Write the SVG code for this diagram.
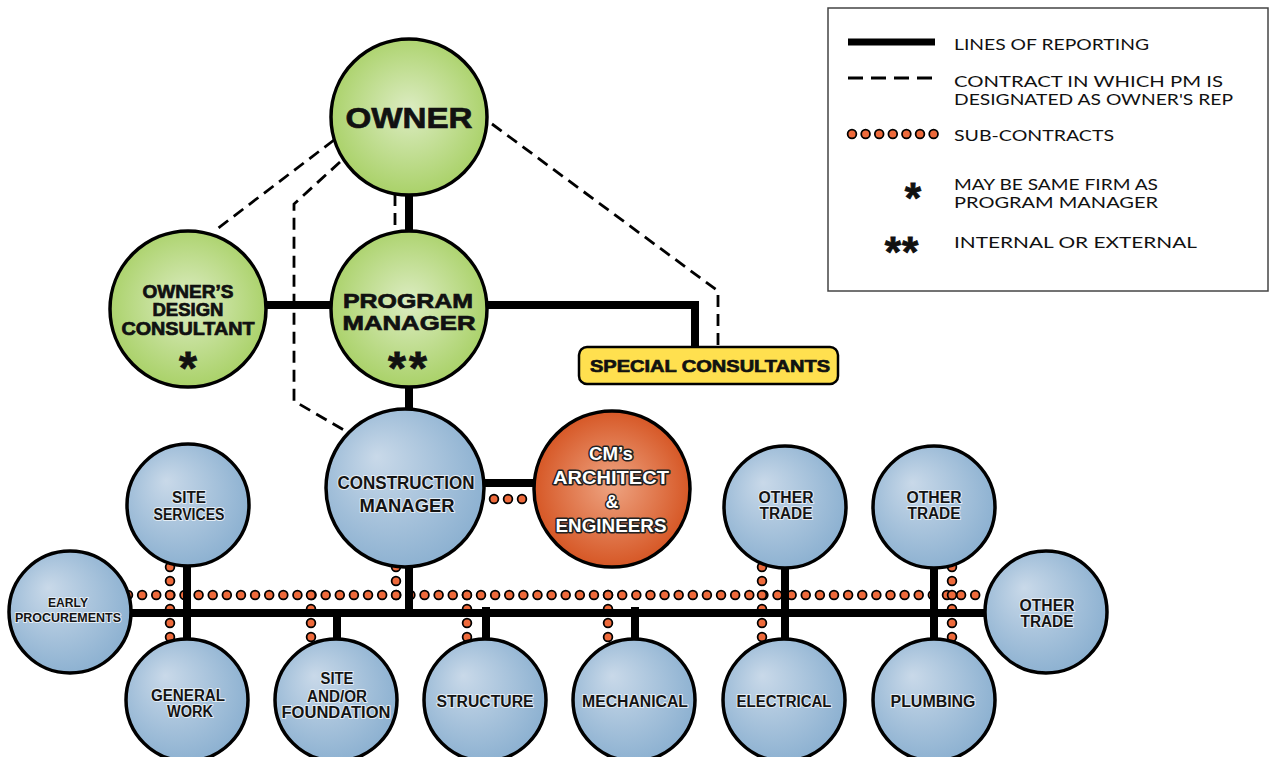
<svg xmlns="http://www.w3.org/2000/svg" width="1269" height="757" viewBox="0 0 1269 757">
<defs>
<radialGradient id="gGreen" cx="50%" cy="48%" r="55%" fx="50%" fy="45%">
<stop offset="0" stop-color="#dcecc2"/><stop offset="1" stop-color="#a7d064"/>
</radialGradient>
<radialGradient id="gBlue" cx="45%" cy="45%" r="62%" fx="32%" fy="30%">
<stop offset="0" stop-color="#c9d9e9"/><stop offset="1" stop-color="#88aecf"/>
</radialGradient>
<radialGradient id="gOrange" cx="50%" cy="50%" r="55%" fx="50%" fy="47%">
<stop offset="0" stop-color="#eea482"/><stop offset="1" stop-color="#d4501d"/>
</radialGradient>
<style>
.node{stroke:#000;stroke-width:3.5}
.green{fill:url(#gGreen)}
.blue{fill:url(#gBlue)}
.orange{fill:url(#gOrange)}
.solid{fill:none;stroke:#000;stroke-width:8;stroke-linejoin:miter}
.dash{fill:none;stroke:#000;stroke-width:2.8;stroke-dasharray:12 7}
.dotO{fill:none;stroke:#000;stroke-width:10.5;stroke-linecap:round}
.dotI{fill:none;stroke:#ee6a3b;stroke-width:7;stroke-linecap:round}
.lbl{font-family:"Liberation Sans",Arial,sans-serif;font-weight:bold;text-anchor:middle}
.gl{fill:#111;stroke:#111;stroke-width:0.7}
.bl{fill:#141414;stroke:#e4edf5;stroke-width:2;paint-order:stroke;stroke-linejoin:round}
.ol{fill:#fff;stroke:#222;stroke-width:3;paint-order:stroke;stroke-linejoin:round}
.star{font-family:"Liberation Sans",sans-serif;font-weight:bold;text-anchor:middle;fill:#111;stroke:#111;stroke-width:0.8}
.leg{font-family:"Lato","Liberation Sans",sans-serif;font-size:16px;fill:#111}
</style>
</defs>
<rect width="1269" height="757" fill="#fff"/>

<g id="connectors">
<g stroke-dasharray="0 14.12">
<path class="dotO" d="M128 595 H986"/><path class="dotI" d="M128 595 H986"/>
</g>
<g stroke-dasharray="0 14">
<path class="dotO" d="M170 567 V638 M396 567 V596 M311 595 V638 M467 595 V638 M608 595 V638 M762 567 V638 M952 567 V638"/>
<path class="dotI" d="M170 567 V638 M396 567 V596 M311 595 V638 M467 595 V638 M608 595 V638 M762 567 V638 M952 567 V638"/>
<path class="dotO" d="M494 499 H524"/><path class="dotI" d="M494 499 H524"/>
</g>
<path class="solid" d="M409 190 V236"/>
<path class="solid" d="M262 305 H336"/>
<path class="solid" d="M482 305 H695 V350"/>
<path class="solid" d="M409 383 V415"/>
<path class="solid" d="M480 483 H538"/>
<path class="solid" d="M409 562 V613"/>
<path class="solid" d="M126 613 H990"/>
<path class="solid" d="M187 560 V645"/>
<path class="solid" d="M337 613 V645"/>
<path class="solid" d="M486 607 V645"/>
<path class="solid" d="M635 607 V645"/>
<path class="solid" d="M785 560 V645"/>
<path class="solid" d="M934 560 V645"/>
<path class="dash" d="M334 140 L213 232"/>
<path class="dash" d="M340 162 L294 204 L294 401 L349 433"/>
<path class="dash" d="M395 194 V233"/>
<path class="dash" d="M492 124 L718 291 L718 348"/>
</g>

<g id="owner">
<circle class="node green" cx="409" cy="117" r="78"/>
<text class="lbl gl" x="409" y="128" font-size="30" textLength="127" lengthAdjust="spacingAndGlyphs">OWNER</text>
</g>

<g id="program-manager">
<circle class="node green" cx="409" cy="309" r="78"/>
<text class="lbl gl" x="408" y="308" font-size="21" textLength="130" lengthAdjust="spacingAndGlyphs">PROGRAM</text>
<text class="lbl gl" x="409" y="330" font-size="21" textLength="133" lengthAdjust="spacingAndGlyphs">MANAGER</text>
<text class="star" x="409" y="384" font-size="46" letter-spacing="3">**</text>
</g>

<g id="owners-design-consultant">
<circle class="node green" cx="188" cy="309" r="78"/>
<text class="lbl gl" x="188" y="298" font-size="18" textLength="91" lengthAdjust="spacingAndGlyphs">OWNER’S</text>
<text class="lbl gl" x="188" y="316" font-size="18" textLength="71" lengthAdjust="spacingAndGlyphs">DESIGN</text>
<text class="lbl gl" x="188" y="335" font-size="18" textLength="133" lengthAdjust="spacingAndGlyphs">CONSULTANT</text>
<text class="star" x="188" y="384" font-size="46">*</text>
</g>

<g id="special-consultants">
<rect x="579" y="347" width="259" height="37" rx="8" fill="#ffe04f" stroke="#000" stroke-width="2.5"/>
<text class="lbl gl" x="710" y="372" font-size="17" textLength="240" lengthAdjust="spacingAndGlyphs">SPECIAL CONSULTANTS</text>
</g>

<g id="construction-manager">
<circle class="node blue" cx="405" cy="488" r="79"/>
<text class="lbl bl" x="406" y="489" font-size="18" textLength="137" lengthAdjust="spacingAndGlyphs">CONSTRUCTION</text>
<text class="lbl bl" x="407" y="512" font-size="18" textLength="95" lengthAdjust="spacingAndGlyphs">MANAGER</text>
</g>

<g id="cms-architect-engineers">
<circle class="node orange" cx="612" cy="489" r="78"/>
<text class="lbl ol" x="611" y="460" font-size="18" textLength="44" lengthAdjust="spacingAndGlyphs">CM’s</text>
<text class="lbl ol" x="611" y="484" font-size="18" textLength="116" lengthAdjust="spacingAndGlyphs">ARCHITECT</text>
<text class="lbl ol" x="612" y="508" font-size="18">&amp;</text>
<text class="lbl ol" x="611" y="532" font-size="18" textLength="111" lengthAdjust="spacingAndGlyphs">ENGINEERS</text>
</g>

<g id="site-services">
<circle class="node blue" cx="188" cy="505" r="61"/>
<text class="lbl bl" x="189" y="503" font-size="16" textLength="34" lengthAdjust="spacingAndGlyphs">SITE</text>
<text class="lbl bl" x="189" y="520" font-size="16" textLength="71" lengthAdjust="spacingAndGlyphs">SERVICES</text>
</g>

<g id="early-procurements">
<circle class="node blue" cx="70" cy="612" r="61"/>
<text class="lbl bl" x="68" y="607" font-size="13" textLength="40" lengthAdjust="spacingAndGlyphs">EARLY</text>
<text class="lbl bl" x="68" y="622" font-size="13" textLength="106" lengthAdjust="spacingAndGlyphs">PROCUREMENTS</text>
</g>

<g id="general-work">
<circle class="node blue" cx="187" cy="700" r="61"/>
<text class="lbl bl" x="188" y="701" font-size="16" textLength="74" lengthAdjust="spacingAndGlyphs">GENERAL</text>
<text class="lbl bl" x="190" y="717" font-size="16" textLength="46" lengthAdjust="spacingAndGlyphs">WORK</text>
</g>

<g id="site-foundation">
<circle class="node blue" cx="336" cy="700" r="61"/>
<text class="lbl bl" x="337" y="684" font-size="16" textLength="33" lengthAdjust="spacingAndGlyphs">SITE</text>
<text class="lbl bl" x="337" y="702" font-size="16" textLength="60" lengthAdjust="spacingAndGlyphs">AND/OR</text>
<text class="lbl bl" x="336" y="718" font-size="16" textLength="109" lengthAdjust="spacingAndGlyphs">FOUNDATION</text>
</g>

<g id="structure">
<circle class="node blue" cx="485" cy="700" r="61"/>
<text class="lbl bl" x="485" y="707" font-size="16" textLength="97" lengthAdjust="spacingAndGlyphs">STRUCTURE</text>
</g>

<g id="mechanical">
<circle class="node blue" cx="634" cy="700" r="61"/>
<text class="lbl bl" x="635" y="707" font-size="16" textLength="106" lengthAdjust="spacingAndGlyphs">MECHANICAL</text>
</g>

<g id="electrical">
<circle class="node blue" cx="784" cy="700" r="61"/>
<text class="lbl bl" x="784" y="707" font-size="16" textLength="95" lengthAdjust="spacingAndGlyphs">ELECTRICAL</text>
</g>

<g id="plumbing">
<circle class="node blue" cx="934" cy="700" r="61"/>
<text class="lbl bl" x="933" y="707" font-size="16" textLength="85" lengthAdjust="spacingAndGlyphs">PLUMBING</text>
</g>

<g id="other-trade-1">
<circle class="node blue" cx="785" cy="507" r="61"/>
<text class="lbl bl" x="786" y="503" font-size="16" textLength="55" lengthAdjust="spacingAndGlyphs">OTHER</text>
<text class="lbl bl" x="786" y="519" font-size="16" textLength="53" lengthAdjust="spacingAndGlyphs">TRADE</text>
</g>

<g id="other-trade-2">
<circle class="node blue" cx="934" cy="507" r="61"/>
<text class="lbl bl" x="934" y="503" font-size="16" textLength="55" lengthAdjust="spacingAndGlyphs">OTHER</text>
<text class="lbl bl" x="934" y="519" font-size="16" textLength="53" lengthAdjust="spacingAndGlyphs">TRADE</text>
</g>

<g id="other-trade-3">
<circle class="node blue" cx="1046" cy="612" r="61"/>
<text class="lbl bl" x="1047" y="611" font-size="16" textLength="55" lengthAdjust="spacingAndGlyphs">OTHER</text>
<text class="lbl bl" x="1047" y="627" font-size="16" textLength="53" lengthAdjust="spacingAndGlyphs">TRADE</text>
</g>

<g id="legend">
<rect x="828" y="8" width="440" height="283" fill="#fff" stroke="#444" stroke-width="1.5"/>
<path d="M848 42 H935" stroke="#000" stroke-width="7"/>
<path d="M848 78 H935" stroke="#000" stroke-width="2.8" stroke-dasharray="15 8"/>
<g stroke-dasharray="0 13.6">
<path class="dotO" d="M852 134 H934" stroke-width="9.5"/><path class="dotI" d="M852 134 H934" stroke-width="6.5"/>
</g>
<text class="leg" x="954" y="50" textLength="195" lengthAdjust="spacingAndGlyphs">LINES OF REPORTING</text>
<text class="leg" x="954" y="87" textLength="269" lengthAdjust="spacingAndGlyphs">CONTRACT IN WHICH PM  IS</text>
<text class="leg" x="954" y="105" textLength="279" lengthAdjust="spacingAndGlyphs">DESIGNATED AS OWNER'S REP</text>
<text class="leg" x="954" y="141" textLength="160" lengthAdjust="spacingAndGlyphs">SUB-CONTRACTS</text>
<text class="leg" x="954" y="190" textLength="204" lengthAdjust="spacingAndGlyphs">MAY BE SAME FIRM AS</text>
<text class="leg" x="954" y="208" textLength="204" lengthAdjust="spacingAndGlyphs">PROGRAM MANAGER</text>
<text class="leg" x="954" y="248" textLength="243" lengthAdjust="spacingAndGlyphs">INTERNAL OR EXTERNAL</text>
<text class="star" x="913" y="212" font-size="42">*</text>
<text class="star" x="902" y="266" font-size="42" letter-spacing="1">**</text>
</g>
</svg>
